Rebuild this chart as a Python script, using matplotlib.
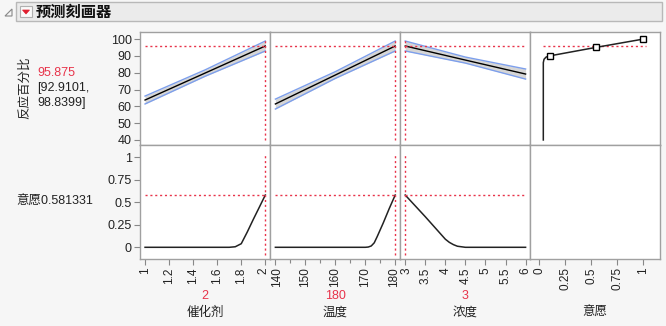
import matplotlib
matplotlib.use("Agg")
import matplotlib.pyplot as plt
import matplotlib.transforms as mtransforms
from matplotlib.patches import Rectangle, Polygon

plt.rcParams['font.family'] = ['Liberation Sans', 'Noto Sans CJK SC', 'DejaVu Sans']

# ---- data ----
factor_names = ["催化剂", "温度", "浓度"]
current_vals = [2, 180, 3]
current_labels = ["2", "180", "3"]
pred_value = 95.875
pred_ci = (92.9101, 98.8399)
current_des = 0.581331

cat_x = [1.0, 1.5, 2.0]
cat_mid = [63.75, 79.8, 95.875]
cat_lo = [61.4, 77.9, 92.91]
cat_hi = [66.1, 81.7, 98.84]

temp_x = [140, 160, 180]
temp_mid = [61.4, 78.6, 95.875]
temp_lo = [58.4, 76.6, 92.91]
temp_hi = [64.3, 80.6, 98.84]

conc_x = [3.0, 4.5, 6.0]
conc_mid = [95.875, 87.5, 79.2]
conc_lo = [92.91, 85.7, 76.2]
conc_hi = [98.84, 89.3, 82.2]

cat_dx = [1.0, 1.7, 1.75, 1.8, 1.85, 1.9, 1.95, 2.0]
cat_d = [0, 0, 0.006, 0.04, 0.17, 0.31, 0.445, 0.581]
temp_dx = [140, 170, 171, 172, 173, 174, 176, 178, 180]
temp_d = [0, 0, 0.003, 0.015, 0.05, 0.12, 0.27, 0.43, 0.581]
conc_dx = [3.0, 3.5, 4.0, 4.1, 4.2, 4.3, 4.5, 6.0]
conc_d = [0.581, 0.34, 0.09, 0.055, 0.03, 0.012, 0, 0]

des_curve_x = [0.038, 0.038, 0.045, 0.065, 0.1, 0.54, 1.0]
des_curve_y = [40, 86, 88, 89.3, 90, 95, 100]
des_pts_x = [0.1, 0.54, 1.0]
des_pts_y = [90, 95, 100]

top_ticks = [40, 50, 60, 70, 80, 90, 100]
bot_ticks = [0, 0.25, 0.5, 0.75, 1]
xticks = [[1, 1.2, 1.4, 1.6, 1.8, 2], [140, 150, 160, 170, 180],
          [3, 3.5, 4, 4.5, 5, 5.5, 6], [0, 0.25, 0.5, 0.75, 1]]
xtick_labels = [["1", "1.2", "1.4", "1.6", "1.8", "2"], ["140", "150", "160", "170", "180"],
                ["3", "3.5", "4", "4.5", "5", "5.5", "6"], ["0", "0.25", "0.5", "0.75", "1"]]
xlims = [(0.958, 2.039), (138.2, 181.6), (2.87, 6.11), (-0.09, 1.16)]

# ---- figure ----
W, H = 666, 326
fig = plt.figure(figsize=(W / 100, H / 100), dpi=100, facecolor='#f6f6f6')

def ax_px(x0, y0, x1, y1):
    return fig.add_axes([x0 / W, 1 - y1 / H, (x1 - x0) / W, (y1 - y0) / H])

RED = '#e8334a'
GRID = '#a0a0a0'
BLUE = '#7d9fec'
TXT = '#222222'
FS = 9

# title bar
fig.patches.append(Rectangle((16 / W, 1 - 21 / H), 646 / W, 19 / H, transform=fig.transFigure,
                             facecolor='#ebebeb', edgecolor='#b8b8b8', lw=1))
fig.patches.append(Polygon([(5 / W, 1 - 16 / H), (12 / W, 1 - 16 / H), (12 / W, 1 - 9 / H)],
                           closed=True, transform=fig.transFigure, facecolor='none',
                           edgecolor='#888888', lw=0.8))
fig.patches.append(Rectangle((20 / W, 1 - 17 / H), 12 / W, 11 / H, transform=fig.transFigure,
                             facecolor='#fafafa', edgecolor='#b0b0b0', lw=0.8))
fig.patches.append(Polygon([(22.5 / W, 1 - 10 / H), (29.5 / W, 1 - 10 / H), (26 / W, 1 - 14 / H)],
                           closed=True, transform=fig.transFigure, facecolor='#e02030',
                           edgecolor='#e02030', lw=0.5))
fig.text(36 / W, 1 - 12 / H, "预测刻画器", fontsize=11, fontweight='bold', va='center',
         ha='left', color='#111111', family=['Noto Sans CJK SC'])

xe = [140, 270, 400, 530, 660]
ye = [32, 145, 259]

def style(ax):
    for s in ax.spines.values():
        s.set_color(GRID)
        s.set_linewidth(1)
    ax.set_facecolor('white')
    ax.tick_params(colors='#888888', labelcolor=TXT, labelsize=FS, length=4, width=0.8, pad=2)

top_data = [(cat_x, cat_mid, cat_lo, cat_hi), (temp_x, temp_mid, temp_lo, temp_hi),
            (conc_x, conc_mid, conc_lo, conc_hi)]
bot_data = [(cat_dx, cat_d), (temp_dx, temp_d), (conc_dx, conc_d)]

def nudge(label, dx_px):
    off = mtransforms.ScaledTranslation(dx_px / 100, 0, fig.dpi_scale_trans)
    label.set_transform(label.get_transform() + off)

for i in range(4):
    axt = ax_px(xe[i], ye[0], xe[i + 1], ye[1])
    axb = ax_px(xe[i], ye[1], xe[i + 1], ye[2])
    for ax in (axt, axb):
        style(ax)
        ax.set_xlim(*xlims[i])
    axt.set_ylim(37, 104.2)
    axb.set_ylim(-0.13, 1.137)
    axt.set_xticks([])
    axb.set_xticks(xticks[i])
    axb.set_xticklabels(xtick_labels[i], rotation=90, fontsize=8.5)
    if i == 1:
        axb.set_xticks([145, 155, 165, 175], minor=True)
        axb.tick_params(which='minor', length=3, color='#888888', width=0.8)
    if i == 0:
        axt.set_yticks(top_ticks)
        axt.set_yticklabels([str(t) for t in top_ticks])
        axb.set_yticks(bot_ticks)
        axb.set_yticklabels(["0", "0.25", "0.5", "0.75", "1"])
    else:
        axt.set_yticks([])
        axb.set_yticks([])
    labs = axb.get_xticklabels()
    if i in (0, 1):
        nudge(labs[-1], -1.5)
    if i in (1, 2):
        nudge(labs[0], 1.5)
    if i < 3:
        x, m, lo, hi = top_data[i]
        axt.fill_between(x, lo, hi, color='#d6d6d6', lw=0)
        axt.plot(x, lo, color=BLUE, lw=1)
        axt.plot(x, hi, color=BLUE, lw=1)
        axt.plot(x, m, color='black', lw=1)
        axt.axhline(pred_value, xmin=0.04, xmax=0.96, color=RED, lw=1, ls=(0, (1.5, 2)))
        axt.axvline(current_vals[i], ymin=0.044, ymax=0.947, color=RED, lw=1, ls=(0, (1.5, 2)))
        dx, dd = bot_data[i]
        axb.plot(dx, dd, color='#222222', lw=1.1)
        axb.axhline(current_des, xmin=0.04, xmax=0.96, color=RED, lw=1, ls=(0, (1.5, 2)))
        axb.axvline(current_vals[i], ymin=0.035, ymax=0.93, color=RED, lw=1, ls=(0, (1.5, 2)))
        cx = (xe[i] + xe[i + 1]) / 2
        fig.text(cx / W, 1 - 296 / H, current_labels[i], color=RED, fontsize=FS,
                 ha='center', va='center')
        fig.text(cx / W, 1 - 313 / H, factor_names[i], color=TXT, fontsize=FS,
                 ha='center', va='center')
    else:
        axt.axhline(pred_value, xmin=0.1, xmax=0.89, color=RED, lw=1, ls=(0, (1.5, 2)))
        axt.plot(des_curve_x, des_curve_y, color='#222222', lw=1.1)
        axt.plot(des_pts_x, des_pts_y, ls='none', marker='s', ms=4.5, mfc='white',
                 mec='black', mew=1)
        cx = (xe[i] + xe[i + 1]) / 2
        fig.text(cx / W, 1 - 313 / H, "意愿", color=TXT, fontsize=FS, ha='center', va='center')

# left labels
fig.text(25 / W, 1 - 88 / H, "反应百分比", rotation=90, fontsize=FS, ha='center', va='center',
         color=TXT)
fig.text(37 / W, 1 - 73 / H, f"{pred_value:g}", color=RED, fontsize=FS, ha='left', va='center')
fig.text(37 / W, 1 - 88 / H, f"[{pred_ci[0]:g},", color=TXT, fontsize=FS, ha='left', va='center')
fig.text(37 / W, 1 - 103 / H, f"{pred_ci[1]:g}]", color=TXT, fontsize=FS, ha='left', va='center')
fig.text(16 / W, 1 - 202 / H, f"意愿{current_des:g}", color=TXT, fontsize=FS, ha='left',
         va='center')

fig.savefig("out.png", dpi=100, facecolor=fig.get_facecolor())
